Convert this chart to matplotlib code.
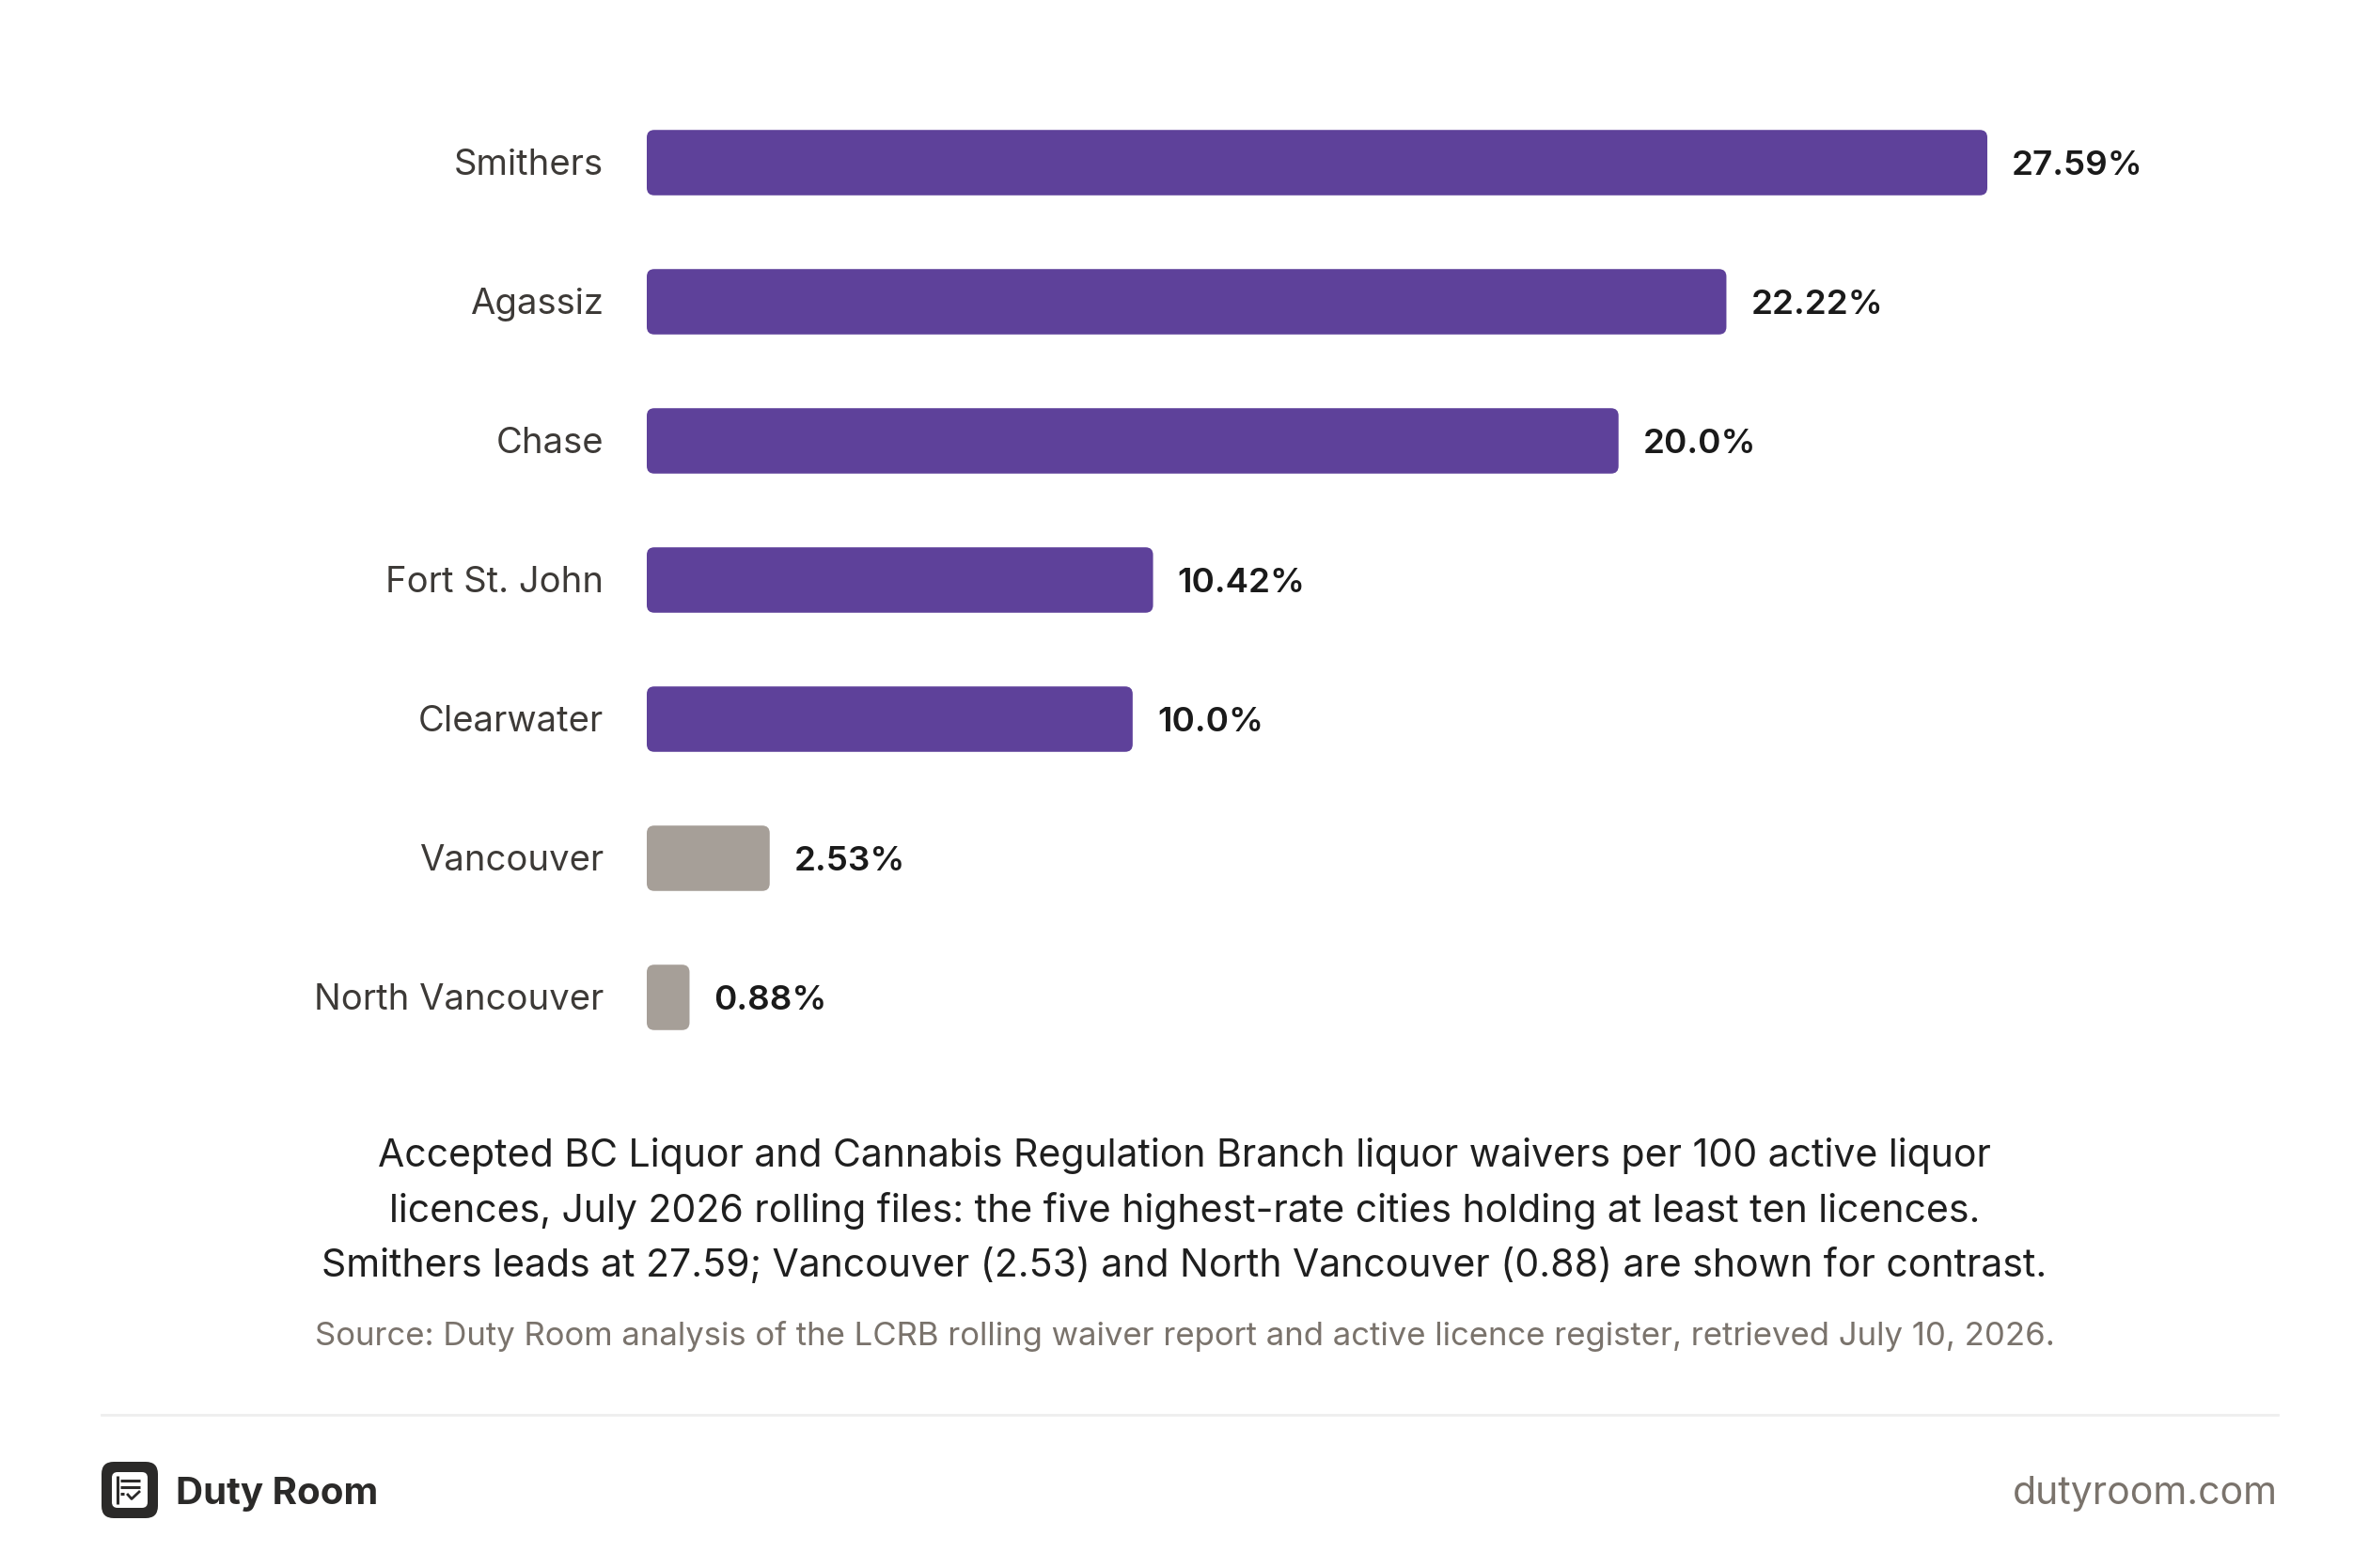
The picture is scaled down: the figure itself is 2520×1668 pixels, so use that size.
import matplotlib
matplotlib.use("Agg")
import matplotlib.pyplot as plt
from matplotlib.patches import FancyBboxPatch
from matplotlib.lines import Line2D

# data
cities = ["Smithers", "Agassiz", "Chase", "Fort St. John", "Clearwater", "Vancouver", "North Vancouver"]
rates = [27.59, 22.22, 20.0, 10.42, 10.0, 2.53, 0.88]
labels = ["27.59%", "22.22%", "20.0%", "10.42%", "10.0%", "2.53%", "0.88%"]
highlight = [True, True, True, True, True, False, False]

caption = ("Accepted BC Liquor and Cannabis Regulation Branch liquor waivers per 100 active liquor\n"
           "licences, July 2026 rolling files: the five highest-rate cities holding at least ten licences.\n"
           "Smithers leads at 27.59; Vancouver (2.53) and North Vancouver (0.88) are shown for contrast.")
source = "Source: Duty Room analysis of the LCRB rolling waiver report and active licence register, retrieved July 10, 2026."

PURPLE = "#5e419a"
GREY = "#a69f98"
W, H = 2520, 1668

plt.rcParams['font.family'] = ['Inter', 'DejaVu Sans']

fig = plt.figure(figsize=(W / 100, H / 100), dpi=100)
fig.patch.set_facecolor("white")

# bar area in pixels
x0, x1 = 688, 2114
top, bottom = 99, 1135
ax = fig.add_axes([x0 / W, 1 - bottom / H, (x1 - x0) / W, (bottom - top) / H])
xmax = max(rates)
ax.set_xlim(0, xmax)
ax.set_ylim(len(cities) - 0.5, -0.5)
ax.axis("off")

px_per_x = (x1 - x0) / xmax
px_per_y = (bottom - top) / len(cities)
aspect = px_per_x / px_per_y
bar_h = 0.47
radius_px = 8
text_dy = 3 / px_per_y  # nudge text down a little

for i, (city, v, lab, hl) in enumerate(zip(cities, rates, labels, highlight)):
    color = PURPLE if hl else GREY
    box = FancyBboxPatch((0, i - bar_h / 2), v, bar_h,
                         boxstyle=f"round,pad=0,rounding_size={radius_px / px_per_x}",
                         mutation_aspect=aspect,
                         facecolor=color, edgecolor="none")
    ax.add_patch(box)
    ax.text(v + 26 / px_per_x, i + text_dy, lab, va="center", ha="left", fontsize=26.5,
            fontweight="semibold", color="#1a1a1a", clip_on=False)
    ax.text(-46 / px_per_x, i + text_dy, city, va="center", ha="right", fontsize=27.5,
            color="#3d3a37", clip_on=False)

# caption and source
fig.text(0.5, 1 - 1288 / H, caption, ha="center", va="center", fontsize=29.5,
         color="#1f1f1f", linespacing=1.6)
fig.text(0.5, 1 - 1422 / H, source, ha="center", va="center", fontsize=25,
         color="#7a736c")

# footer separator
fig.add_artist(Line2D([108 / W, 2423 / W], [1 - 1505 / H, 1 - 1505 / H],
                      transform=fig.transFigure, color="#eeeeee", linewidth=2))

# logo
lax = fig.add_axes([108 / W, 1 - 1615 / H, 60 / W, 60 / H])
lax.set_xlim(0, 60)
lax.set_ylim(0, 60)
lax.axis("off")
lax.add_patch(FancyBboxPatch((0, 0), 60, 60, boxstyle="round,pad=0,rounding_size=13",
                             facecolor="#2b2a29", edgecolor="none"))
lax.add_patch(FancyBboxPatch((11, 11), 38, 38, boxstyle="round,pad=0,rounding_size=6",
                             facecolor="white", edgecolor="none"))
lax.plot([16.5, 16.5], [15, 45], color="#2b2a29", lw=2.2, solid_capstyle="butt")
for yy in (40.5, 33.5):
    lax.plot([20, 41], [yy, yy], color="#2b2a29", lw=2.2, solid_capstyle="butt")
lax.plot([20, 24], [26, 26], color="#2b2a29", lw=2.2, solid_capstyle="butt")
lax.plot([28, 32, 40], [25, 20.5, 28], color="#2b2a29", lw=2.0)

fig.text(187 / W, 1 - 1589 / H, "Duty Room", ha="left", va="center", fontsize=29,
         fontweight="bold", color="#2b2a29")
fig.text(2423 / W, 1 - 1589 / H, "dutyroom.com", ha="right", va="center", fontsize=29.5,
         color="#7a736c")

fig.savefig("out.png", dpi=100, facecolor="white")
